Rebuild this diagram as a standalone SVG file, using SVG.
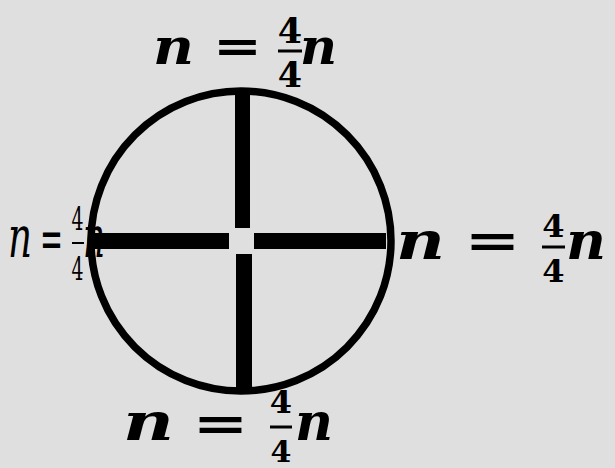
<svg xmlns="http://www.w3.org/2000/svg" width="615" height="468" viewBox="0 0 615 468">
<style>
.n{font-family:"DejaVu Serif",serif;font-weight:bold;font-style:italic;fill:#000}
.nl{font-family:"DejaVu Serif",serif;font-style:italic;fill:#000}
.d{font-family:"DejaVu Serif",serif;font-weight:bold;fill:#000;text-anchor:middle}
.dl{font-family:"DejaVu Serif",serif;fill:#000;text-anchor:middle}
.eq{font-family:"DejaVu Sans",sans-serif;font-weight:bold;fill:#000;text-anchor:middle}
.eql{font-family:"DejaVu Sans",sans-serif;fill:#000;text-anchor:middle}
.fb{stroke:#000;stroke-width:3}
.bar{fill:#000}
</style>
<rect width="615" height="468" fill="#dfdfdf"/>
<g id="label-left">
<text class="nl" x="8" y="257" font-size="58" textLength="24" lengthAdjust="spacingAndGlyphs">n</text>
<text class="eql" x="51.5" y="258" font-size="56" textLength="23" lengthAdjust="spacingAndGlyphs">=</text>
<text class="dl" x="77.5" y="230" font-size="32" textLength="12" lengthAdjust="spacingAndGlyphs">4</text>
<line x1="72" y1="243" x2="84" y2="243" stroke="#000" stroke-width="2"/>
<text class="dl" x="77.5" y="280" font-size="32" textLength="12" lengthAdjust="spacingAndGlyphs">4</text>
<text class="nl" x="83" y="257" font-size="58" textLength="22" lengthAdjust="spacingAndGlyphs">n</text>
</g>
<g id="wheel">
<circle cx="241" cy="241" r="150" fill="none" stroke="#000" stroke-width="7.5"/>
</g>
<g id="connectors">
<rect class="bar" x="235" y="91" width="15" height="137"/>
<rect class="bar" x="236" y="254" width="16" height="136"/>
<rect class="bar" x="92" y="233" width="137" height="16"/>
<rect class="bar" x="254" y="233" width="132" height="16"/>
</g>
<g id="label-top">
<text class="n" x="153" y="64" font-size="50" textLength="41" lengthAdjust="spacingAndGlyphs">n</text>
<text class="eq" x="237.5" y="61" font-size="44" textLength="49" lengthAdjust="spacingAndGlyphs">=</text>
<text class="d" x="290" y="43" font-size="35">4</text>
<line class="fb" x1="278" y1="51" x2="302" y2="51"/>
<text class="d" x="290" y="87" font-size="35">4</text>
<text class="n" x="300" y="64" font-size="50" textLength="37" lengthAdjust="spacingAndGlyphs">n</text>
</g>
<g id="label-right">
<text class="n" x="396" y="259" font-size="52" textLength="49" lengthAdjust="spacingAndGlyphs">n</text>
<text class="eq" x="492.5" y="257" font-size="46" textLength="56" lengthAdjust="spacingAndGlyphs">=</text>
<text class="d" x="553.5" y="237" font-size="32">4</text>
<line class="fb" x1="542" y1="247" x2="565" y2="247"/>
<text class="d" x="553.5" y="282" font-size="32">4</text>
<text class="n" x="566" y="259" font-size="52" textLength="40" lengthAdjust="spacingAndGlyphs">n</text>
</g>
<g id="label-bottom">
<text class="n" x="123" y="440" font-size="52" textLength="51" lengthAdjust="spacingAndGlyphs">n</text>
<text class="eq" x="220.5" y="440" font-size="46" textLength="56" lengthAdjust="spacingAndGlyphs">=</text>
<text class="d" x="281" y="413" font-size="32">4</text>
<line class="fb" x1="270" y1="427" x2="292" y2="427"/>
<text class="d" x="281" y="462" font-size="30">4</text>
<text class="n" x="295" y="440" font-size="52" textLength="38" lengthAdjust="spacingAndGlyphs">n</text>
</g>
</svg>
